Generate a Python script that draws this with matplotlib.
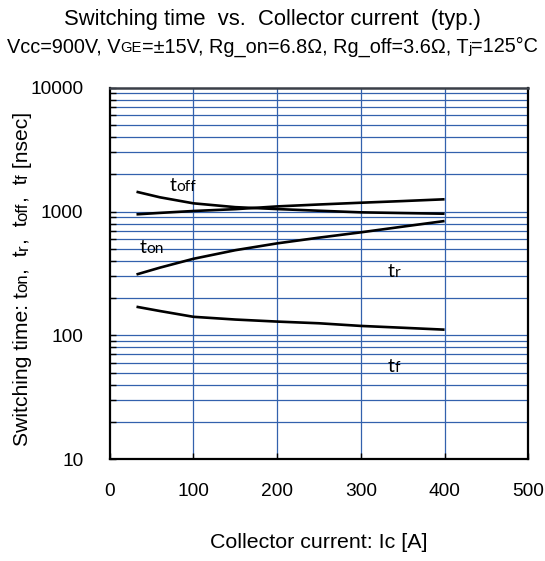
import matplotlib
matplotlib.use("Agg")
import matplotlib.pyplot as plt
from matplotlib.transforms import IdentityTransform
from matplotlib.ticker import LogLocator, NullFormatter

# ---- data ----
ic = [32, 60, 100, 150, 200, 250, 300, 350, 400]
t_off = [1445, 1303, 1165, 1085, 1047, 1015, 985, 972, 960]
t_on = [949, 975, 1010, 1045, 1100, 1140, 1178, 1215, 1256]
t_r = [310, 352, 415, 487, 553, 615, 679, 755, 838]
t_f = [170, 157, 141, 134, 129, 125, 119, 115, 111]

x_ticks = [0, 100, 200, 300, 400, 500]
x_tick_labels = ["0", "100", "200", "300", "400", "500"]
y_ticks = [10, 100, 1000, 10000]
y_tick_labels = ["10", "100", "1000", "10000"]

title = "Switching time  vs.  Collector current  (typ.)"
xlabel = "Collector current: Ic [A]"

FONT = "Liberation Sans"
LBLFONT = "Lato"
plt.rcParams["font.family"] = [FONT, "DejaVu Sans"]

W, H = 545, 561
fig = plt.figure(figsize=(W / 100, H / 100), dpi=100)
ax = fig.add_axes([109.7 / W, 1 - 459 / H, (528.3 - 109.7) / W, (459 - 87.8) / H])

grid_c = "#3361AD"
ax.set_yscale("log")
ax.set_xlim(0, 500)
ax.set_ylim(10, 10000)

for y in [10, 100, 1000]:
    for m in range(1, 10):
        v = y * m
        if 10 < v < 10000:
            ax.axhline(v, color=grid_c, lw=0.9, zorder=1)
for x in [100, 200, 300, 400]:
    ax.axvline(x, color=grid_c, lw=0.9, zorder=1)

lw = 1.9
for ys in (t_off, t_on, t_r, t_f):
    ax.plot(ic, ys, color="black", lw=lw, zorder=3, solid_capstyle="butt")

ax.set_xticks(x_ticks)
ax.set_xticklabels(x_tick_labels)
ax.set_yticks(y_ticks)
ax.set_yticklabels(y_tick_labels)
ax.yaxis.set_minor_locator(LogLocator(base=10, subs=range(2, 10)))
ax.yaxis.set_minor_formatter(NullFormatter())
ax.tick_params(axis="both", which="both", direction="in", length=4.5, width=1.0,
               color="black", labelsize=13.8, top=False, right=False)
ax.tick_params(axis="y", pad=19)
ax.tick_params(axis="x", pad=17)
ax.tick_params(axis="x", which="minor", length=0)

for s in ["left", "bottom", "right"]:
    ax.spines[s].set_linewidth(1.6)
    ax.spines[s].set_color("black")
ax.spines["top"].set_linewidth(1.8)
ax.spines["top"].set_color("#3a3f48")

fig.canvas.draw()
r = fig.canvas.get_renderer()


def run_width(s, fs, fam):
    t1 = fig.text(0, 0, "x" + s + "x", fontsize=fs, family=fam, transform=IdentityTransform())
    t2 = fig.text(0, 0, "xx", fontsize=fs, family=fam, transform=IdentityTransform())
    w = t1.get_window_extent(r).width - t2.get_window_extent(r).width
    t1.remove()
    t2.remove()
    return w


def draw_runs(runs, x, y, rotation=0, align="center", fam=FONT):
    widths = [run_width(s, fs, fam) for s, fs in runs]
    total = sum(widths)
    start = -total / 2 if align == "center" else 0
    pos = start
    for (s, fs), w in zip(runs, widths):
        if rotation == 0:
            px, py = x + pos, y
        else:
            px, py = x, y + pos
        fig.text(px, py, s, fontsize=fs, family=fam, transform=IdentityTransform(),
                 ha="left", va="baseline", rotation=rotation, rotation_mode="anchor")
        pos += w


# title and subtitle
fig.text(272 / W, 1 - 20 / H, title, fontsize=15.8, ha="center", va="center")
big, small = 14.3, 10.6
draw_runs([("Vcc=900V, V", big), ("GE", small), ("=\u00b115V, Rg_on=6.8\u03a9, Rg_off=3.6\u03a9, T", big),
           ("j", small), ("=125\u00b0C", big)], 272.5, H - 52.5)

# axis labels
fig.text(318.5 / W, 1 - 543 / H, xlabel, fontsize=15.4, ha="center", va="center")
ylab_big, ylab_small = 15.2, 12.0
draw_runs([("Switching time: t", ylab_big), ("on", ylab_small), (",  t", ylab_big), ("r", ylab_small),
           (",  t", ylab_big), ("off", ylab_small), (",  t", ylab_big), ("f", ylab_small),
           (" [nsec]", ylab_big)], 27.5, H - 279, rotation=90)

# curve labels
lab_big, lab_small = 14.0, 11.2
for name, sub, xd, yd in [("t", "off", 71, 1479), ("t", "on", 36, 464), ("t", "r", 332, 297), ("t", "f", 332, 50.7)]:
    px, py = ax.transData.transform((xd, yd))
    draw_runs([(name, lab_big), (sub, lab_small)], px, py, align="left", fam=LBLFONT)

fig.savefig("out.png", dpi=100)
